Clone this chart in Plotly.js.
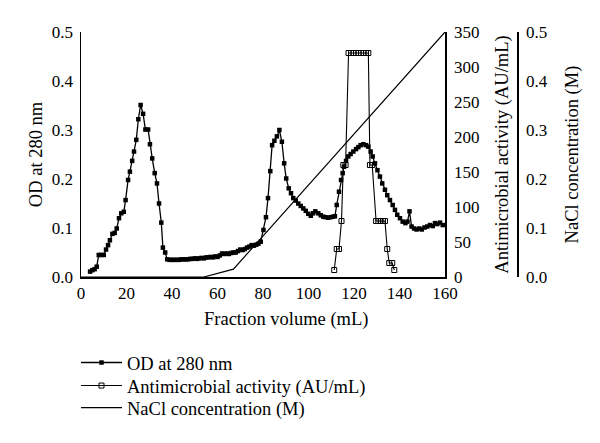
<!DOCTYPE html>
<html>
<head>
<meta charset="utf-8">
<script src="https://cdn.plot.ly/plotly-3.0.1.min.js"></script>
<style>html,body{margin:0;padding:0;background:#fff;}#chart{width:600px;height:443px;}</style>
</head>
<body>
<div id="chart"></div>
<script>
// OD at 280 nm (left axis)
var odX = [4,5,6,6.9,7.8,8.9,10,11,11.9,12.7,13.8,14.8,15.7,16.7,17.7,18.8,19.6,20.7,21.5,22.5,23.3,24.3,25.2,26.2,27.3,28.3,29.5,30.3,31.3,32.4,33.4,34.3,35.3,36,37,37.9,
  39,40,41,42,43,44,45,46,47,48,49,50,51,52,53,54,55,56,57,58,59,60,61,62,63,64,65,66,67,68,69,70,71,72,73,74,75,76,77,78,79,
  80.2,81.3,82.2,83.2,84,85,86.1,87.2,88.3,89.3,90.2,91.3,92.3,93.3,94.4,95.5,96.6,97.7,98.8,99.9,101,102,103,104.3,105.4,106.5,107.5,108.6,109.7,110.7,111.6,
  112.4,113.4,114.3,115,115.6,116.5,117.5,118.5,119.7,120.9,121.9,122.9,124.1,125.3,126.3,127.3,128.2,129.2,130.3,131.4,132.4,133.6,134.6,135.8,137,138,139,
  140.2,141.4,142.6,143.5,144.4,145.3,146.4,147.5,148.7,149.8,151,152.2,153.4,154.6,155.6,156.6,157.8,159];
var odY = [0.011,0.014,0.016,0.021,0.045,0.045,0.045,0.056,0.065,0.075,0.088,0.090,0.099,0.120,0.130,0.133,0.157,0.198,0.215,0.237,0.256,0.280,0.322,0.351,0.333,0.301,0.301,0.271,0.242,0.212,0.191,0.150,0.111,0.060,0.050,0.036,
  0.035,0.035,0.035,0.035,0.035,0.036,0.036,0.036,0.036,0.037,0.037,0.038,0.037,0.038,0.039,0.038,0.040,0.040,0.041,0.040,0.042,0.041,0.044,0.048,0.047,0.048,0.047,0.049,0.050,0.050,0.053,0.056,0.055,0.057,0.060,0.062,0.065,0.064,0.066,0.068,0.072,
  0.096,0.122,0.161,0.216,0.269,0.278,0.287,0.300,0.276,0.232,0.201,0.181,0.171,0.161,0.156,0.150,0.145,0.140,0.135,0.129,0.125,0.130,0.134,0.130,0.126,0.123,0.122,0.121,0.122,0.123,0.124,
  0.147,0.174,0.198,0.212,0.225,0.237,0.246,0.251,0.256,0.261,0.265,0.269,0.271,0.269,0.266,0.256,0.246,0.232,0.218,0.205,0.191,0.178,0.167,0.157,0.147,0.137,0.127,
  0.120,0.113,0.110,0.113,0.134,0.103,0.099,0.097,0.099,0.097,0.101,0.103,0.106,0.104,0.110,0.108,0.111,0.106];

// Antimicrobial activity (AU/mL), right axis
var amX = [111.3,112.4,113.4,114.5,115.3,116.3,117.6,118.7,119.8,120.9,122,123.1,124.2,125.3,126.3,127,128,129.7,130.7,131.7,132.7,133.6,134.6,135.5,136.8,137.7];
var amY = [10,40,40,80,160,160,320,320,320,320,320,320,320,320,320,160,160,80,80,80,80,80,40,20,20,10];

// NaCl concentration (M), third axis
var naX = [0,54,67,160];
var naY = [0,0,0.016,0.5];

var xTicks = [0,20,40,60,80,100,120,140,160];
var odTicks = [0,0.1,0.2,0.3,0.4,0.5];
var odTickText = ['0.0','0.1','0.2','0.3','0.4','0.5'];
var amTicks = [0,50,100,150,200,250,300,350];
var naTicks = [0,0.1,0.2,0.3,0.4,0.5];
var naTickText = ['0.0','0.1','0.2','0.3','0.4','0.5'];
var xTitle = 'Fraction volume (mL)';

var FONT = 'Liberation Serif, Times New Roman, serif';
var tickFnt = {family: FONT, size: 17, color: '#000'};
var titleFnt = {family: FONT, size: 18.5, color: '#000'};
var legFnt = {family: FONT, size: 18.5, color: '#000'};

var traces = [
  {x: odX, y: odY, name: 'OD at 280 nm', type: 'scatter', mode: 'lines+markers', legend: 'legend',
   line: {color: '#000', width: 1.3}, marker: {symbol: 'square', size: 4.5, color: '#000'}, yaxis: 'y'},
  {x: amX, y: amY, name: 'Antimicrobial activity (AU/mL)', type: 'scatter', mode: 'lines+markers', legend: 'legend2',
   line: {color: '#000', width: 1.1}, marker: {symbol: 'square-open', size: 5, color: '#000', line: {width: 1}}, yaxis: 'y2'},
  {x: naX, y: naY, name: 'NaCl concentration (M)', type: 'scatter', mode: 'lines', legend: 'legend3',
   line: {color: '#000', width: 1.2}, yaxis: 'y3'}
];

function leg(yv) {
  return {x: -0.0115, y: yv, xanchor: 'left', yanchor: 'middle', orientation: 'v', itemwidth: 41,
    font: legFnt, bgcolor: 'rgba(0,0,0,0)', borderwidth: 0};
}

var layout = {
  width: 600, height: 443,
  margin: {l: 81, r: 83, t: 32, b: 166},
  paper_bgcolor: '#fff', plot_bgcolor: '#fff',
  font: tickFnt,
  showlegend: true,
  legend: leg(-0.351),
  legend2: leg(-0.445),
  legend3: leg(-0.535),
  annotations: [{text: xTitle, xref: 'paper', yref: 'paper', x: 0.470, y: -0.1755, xanchor: 'center', yanchor: 'middle',
    showarrow: false, font: titleFnt}],
  xaxis: {domain: [0, 0.8349], range: [0, 160], tickvals: xTicks, showline: true, linecolor: '#000', linewidth: 2,
    ticks: '', showgrid: false, zeroline: false, tickfont: tickFnt},
  yaxis: {range: [0, 0.5], tickvals: odTicks, ticktext: odTickText, showline: true, linecolor: '#000', linewidth: 1.5,
    ticks: '', ticklabelstandoff: 3, showgrid: false, zeroline: false, tickfont: tickFnt, title: {text: 'OD at 280 nm', font: titleFnt, standoff: 4}},
  yaxis2: {overlaying: 'y', side: 'right', anchor: 'x', range: [0, 350], tickvals: amTicks, showline: true, linecolor: '#000', linewidth: 1.5,
    ticks: '', ticklabelstandoff: 4, showgrid: false, zeroline: false, tickfont: tickFnt, title: {text: 'Antimicrobial activity (AU/mL)', font: titleFnt, standoff: 16}},
  yaxis3: {overlaying: 'y', side: 'right', anchor: 'free', position: 1, range: [0, 0.5], tickvals: naTicks, ticktext: naTickText, showline: true, linecolor: '#000', linewidth: 1.5,
    ticks: '', ticklabelstandoff: 4, showgrid: false, zeroline: false, tickfont: tickFnt, title: {text: 'NaCl concentration (M)', font: titleFnt, standoff: 18}}
};

Plotly.newPlot('chart', traces, layout, {displayModeBar: false, staticPlot: true});
</script>
</body>
</html>
